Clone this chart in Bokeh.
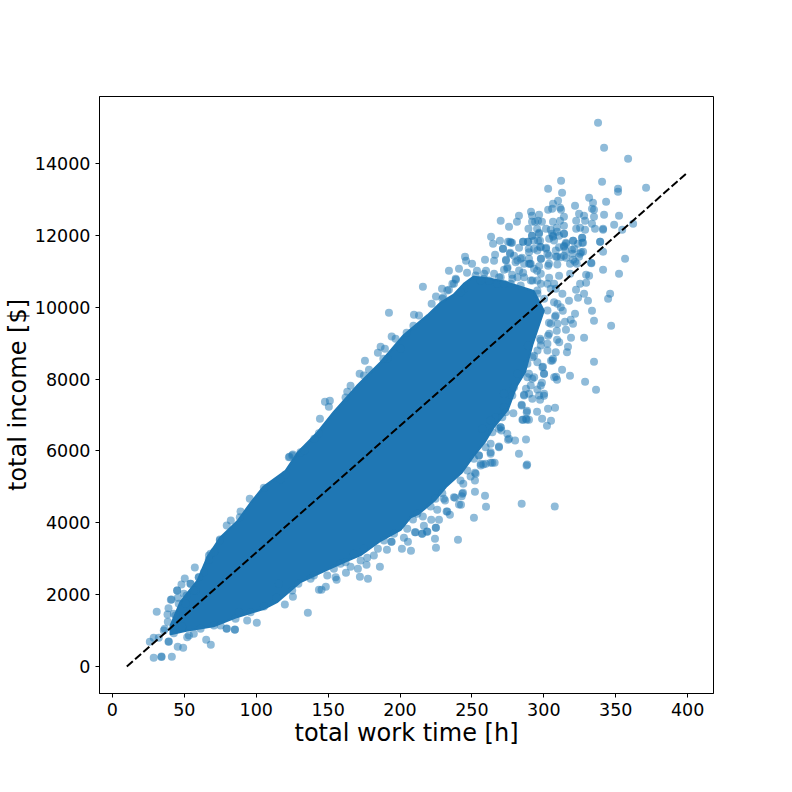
from bokeh.plotting import figure
from bokeh.embed import file_html
from bokeh.resources import INLINE
from bokeh.models import FixedTicker, Range1d

# Readings from the picture. The saturated core cannot be resolved into single
# points, so it is drawn as an outline; only points that can be told apart are listed.
core_hours = [40.4,47.3,59.2,66.1,75.2,87,96,105,120.4,128.7,142.7,153.8,170.5,186.5,202.5,219.2,228.3,237.3,244.3,251.2,262,273.5,293,300,292,287,281,275,265,259,252,243,232,224,213,207.4,200.4,186.5,172.6,160.8,149.6,130.8,114.8,105,87,70.3,52.2,40.4]
core_income = [1141,1800,2400,3050,3600,4050,4550,5000,5450,5950,6520,7080,7830,8470,9220,9780,10130,10350,10650,10850,10800,10700,10450,9900,8950,8200,7800,7150,6650,6250,5900,5400,5000,4620,4250,4150,3800,3500,3100,2900,2700,2350,1800,1600,1380,1120,1000,900]

hours_top = [337.7,341.9,358.6,312,340.5,303,312.7,351.6,351.6,371.1,331.5,334.2,343.3,309.9,306.4,321.7,303,305.8,311.3,312,333.5,334.9,
 291.1,291.8,296.7,282.7,281.3,324.5,328,334.9,341.9,352.3,314,322.5,328.7,348.9,362.1,354.5,341.2,341.2,333.5,335.6,328.7,322.5,325.2,
 311.3,306.4,314,314,310.6,301.5,304.8,305.7,306.4,309,309.2,289.3,275.8,270,293.9,296,298.7,291.8,295.3,296.7,291.8,320.3,326.7,326.7,323.8,
 339.1,341.2,356.5,341.2,327.3,325.2,324.5,333.1,315.4,314,319.6,301.5,297.4,293.2,289,285.5,275.1,277.2,271.6,279.3,276.5,293.2,289.5,297.4,
 298.1,303.6,308.5,314,318.2,290.4,284.8,281.6,273.7,274.7,303.6,296.7,309.4,322.9]
income_top = [15132,14436,14130,13518,13490,13295,13184,13295,13212,13323,13045,12906,12934,12961,12878,12822,12711,12739,12767,12711,12739,12711,
 12656,12544,12572,12544,12377,12600,12544,12516,12572,12544,12516,12405,12405,12294,12321,12154,12182,12154,12321,12182,12154,12182,12210,
 12405,12377,12266,12043,11988,12182,12154,12043,11960,12210,12099,12182,12238,12405,12377,12405,12377,12377,12182,12071,11988,11849,11932,11793,11765,
 11821,11543,11348,11042,11543,11488,11404,11225,11793,11682,11599,11626,11849,11849,11821,11821,11821,11793,11626,11432,11488,11626,11626,11682,
 11348,11432,11404,11432,11210,11210,11376,11300,11300,11113,11210,11140,11188,11210]

hours_upper = [215.9,192.3,209.7,213.2,209.3,222,225,194.2,196.9,204.6,186.5,189.5,184.6,175.6,178.4,171.9,174.9,165.6,163.3,162.1,147.8,151.2,150.5,
 144.3,143.6,140.4,130.8,133.4,123.2,125.5,120.4,116.9,191.2,188.4,200.4,
 57.3,74.7,79.5,82.3,88.6,89.1,95.5,105.3,125,122.7,68.2,67,71,60,54.3,51.5,46.1,48.5,42.7,40.6,39,38.3,45,48,50.3,35.7,42.7,48.5,52,56.6,39.2,
 28.7,34.1,34.1,41.3,45.4,49.2,26,28.7,32.2,39,36.4,38.5,30.8]
income_upper = [10568,9844,9788,9769,9482,10095,10298,9185,9120,9288,8898,8842,8731,8508,8258,8146,8099,7812,7645,7487,7367,7395,7228,
 6894,6493,6337,5964,6011,5836,5900,5344,5213,8564,8564,8842,
 2755,3535,3924,4063,4155,4314,4667,4973,5873,5825,3136,2970,3201,2486,2301,1976,1745,1606,1467,1856,1623,1447,2115,2282,2449,1002,927,1094,815,910,696,
 242,278,265,270,548,520,687,799,799,687,1049,1244,1522]

hours_lower = [65.2,68.4,85.1,79.5,100.4,93.7,119.9,135.9,125.5,125,240.3,251.4,259.8,259.1,252.1,225,224.3,207.6,201.3,190.9,186,177.7,172.1,170.7,162.4,155.9,148.4,145.4,
 242.4,234.7,227.1,225,216.6,219,215.2,210.4,205.5,202.7,194.2,232.9,243.8,242.9,252.6,252.1,264.2,259.6,256.1,268.8,263,254.9,280,275.8,270.5,
 284.6,307.6,288,288.4,282.7]
income_lower = [743,604,1021,1058,1216,1280,1726,1495,1940,2115,3526,4139,4445,4751,4862,3304,3554,3220,3276,3248,2775,2441,2496,2719,2608,2413,2218,2135,
 4500,4222,4083,3860,3916,3749,3693,3738,3471,3582,3471,4314,4834,4740,5363,5177,5669,5642,5594,6104,5920,5873,6290,6337,6568,
 4528,4453,5594,5620,5920]

hours_right = [352.3,346.1,344.7,333.5,334.9,346.8,328,334.9,328.7,336.3,318.2,312.7,309.2,308.5,307.8,302.9,295.3,298.8,305,302.2,285.5,287.6,289.7,288.3,
 316.1,316.8,318.9,315.4,320.3,314.7,318.7,321.7,330.7,323.8,328,317.5,322.4,313.2,307.8,303.6,309,302.9,309.2,297.4,289,293.2,306.4,305,299.4,300.1,298.7,295.5,300.1,297.4,292,286.2,287.6,284.6,
 263.3,264.7,269.5,271.6,276.5,277.9,282.8,289,285.6,289.7,291.8,296,301.6,296.7,306.4,314.1,320.4,326.6,327.3,314.1,315.5,339.2,320.4,245.2,245.9,250.1,234,241,259.1,266.1,265.4,276.5,273.7,286.3,290.9,295.3,303,309.2,315.5,321.7,325.9,332.9,329.4,331.5,325.2,329.4,318.3,310.6,303.7,285.6,277.9,272.3,259.8,253.5,246.6,238.9,237.5,234,229.2,230.1,244.5,
 297.9,304.8,312.9,307.1,311.8,302.5,308.3,295.5,300.2,283.9,286.3,277,267.7,258.4,297.9,302.5,295.5,288.6,289.7,292,281.6,279.3,272.3,278.1,272.3,266.5,263,270]
income_right = [10930,10373,10234,9900,9621,9482,9148,8480,7924,7701,8091,8258,7979,8063,7200,7172,7089,6894,6838,6699,6866,6894,6866,7117,
 8748,8898,9148,9371,9538,9594,9649,9816,10178,10262,10373,10178,10484,9900,9733,9566,9343,9204,9093,9121,8926,8648,8564,8508,8341,8146,7896,7710,7534,7423,7450,7562,7729,7284,
 11959,11764,11847,11625,11820,11792,11653,11820,11820,11532,11987,11847,11653,12042,11987,12042,11847,11931,11792,11708,11764,11820,11319,11402,11291,11207,11012,11068,11319,11458,11291,11513,11319,11207,11207,11012,11152,11402,11374,11263,11532,11235,10901,10873,10651,10679,10929,10873,10818,10957,10901,11040,11012,11012,10957,10762,10651,10484,10512,10280,10512,
 10651,10512,10372,10140,10001,9909,10512,10465,10233,10604,10836,10651,10651,10790,8934,8981,8471,8424,8146,8007,8146,7775,7589,7543,7218,6940,6847,6662]

hours_band_low = [45,45.5,41.1,54.3,57.8,50.8,43.9,48.5,53.2,61.3,70.6,79.4,85.2,85.6,114.2,105.4,96.1,88,75.2,129.3,115.8,137.8,143.6,67.1,70.6,63.6,60.1,74.7,56.6,49.7,
 193.9,184.6,181.8,176.7,165.6,158.6,154,149.4,155.2,140.1,162.1,172.6,177.2,174.9,167.9,188.8,195.8,205,210.8,215.5,218.7,224.8,215.9,209,221.7,232.4,231.3,241,225.9,221.3,212,238.2,229.4,
 249.1,244,243.3,237.5,230.5,224.7,265.8,263,257.9,256.1,268.8,263,254.9,251.4,252.1,275.1,287.6,285.1,288.1,273.5,278.8,288.1,284.6,271.1,274.6,270,264.2,257.2,268.8,263,259.5,246.8,242.1]
income_band_low = [2115,1911,1865,2301,2115,1744,1420,1114,863,1049,1141,1049,1030,1327,1911,1670,1512,1512,1141,2301,2301,2440,2134,3090,3182,2626,2487,3507,2115,2023,
 3470,3275,3090,2830,2774,2858,2719,2533,2487,2533,2904,2950,3025,3275,3136,3507,3693,3832,3739,3693,3758,3860,4175,4092,4082,4314,4620,4509,4361,4453,4249,4695,4824,
 5288,5084,4805,4713,4666,4666,5668,5668,5622,5640,6123,5965,5872,5780,5390,6308,6318,6865,6865,7078,7050,7078,7264,6939,6475,6661,6522,6614,6614,6197,6104,5455,5176]

hours_band_high = [308.3,304.9,309.5,297.9,303.7,310.7,306,302.5,308.3,300.2,299,307.2,293.3,297.9,290.9,286.3,289.8,296.7,300.2,295.6,292.1,288.6,309.5,307.2,295.6,302.5,292.1,281.7,270,258.5,236.4,238.7,232.9,229.5,242.2,
 252.6,256.1,261.9,265.4,268.9,272.3,278.1,282.8,289.7,293.2,297.9,290.9,295.5,274.6,280.4,283.9,289.7,297.9,302.5,308.3,311.8,310.6,315.2,321.1,319.9,297.9,295.5,303.7,307.1]
income_band_high = [9769,9537,9537,9073,9258,9026,8516,8795,8748,8145,8331,8052,8052,7820,7820,7542,7589,7542,7589,8795,8609,8052,10093,10650,10372,10650,10743,10835,10835,10928,10650,10789,10464,10232,10418,
 10883,10743,10743,10929,10836,10651,10790,11022,11207,11068,10929,10743,10743,11068,11254,11346,11346,11346,11486,11578,11393,11671,11578,11625,11486,11671,11578,11903,11857]

fit_hours = [10, 400]
fit_income = [0, 13750]

x_ticks = [0, 50, 100, 150, 200, 250, 300, 350, 400]
y_ticks = [0, 2000, 4000, 6000, 8000, 10000, 12000, 14000]

BLUE = "#1f77b4"
p = figure(width=776, height=776, output_backend="svg", toolbar_location=None,
           x_range=Range1d(-9, 418), y_range=Range1d(-751, 15864),
           min_border_left=99, min_border_right=63, min_border_top=96, min_border_bottom=83,
           x_axis_label="total work time [h]", y_axis_label="total income [$]")
p.background_fill_color = "white"
p.border_fill_color = "white"
p.grid.visible = False
p.outline_line_color = "black"
p.outline_line_width = 1

p.patch(core_hours, core_income, fill_color=BLUE, line_color=BLUE, line_width=2, line_join="round")
hours = hours_top + hours_upper + hours_lower + hours_right + hours_band_low + hours_band_high
income = income_top + income_upper + income_lower + income_right + income_band_low + income_band_high
p.scatter(hours, income, size=8, fill_color=BLUE, fill_alpha=0.5, line_color=None)
p.line(fit_hours, fit_income, line_color="black", line_width=2, line_dash="8 3")

for ax, ticks in ((p.xaxis[0], x_ticks), (p.yaxis[0], y_ticks)):
    ax.ticker = FixedTicker(ticks=ticks)
    ax.major_label_text_font = "DejaVu Sans"
    ax.major_label_text_font_size = "17.5px"
    ax.major_label_text_color = "black"
    ax.axis_label_text_font = "DejaVu Sans"
    ax.axis_label_text_font_size = "24px"
    ax.axis_label_text_font_style = "normal"
    ax.axis_label_text_color = "black"
    ax.axis_line_color = "black"
    ax.major_tick_line_color = "black"
    ax.major_tick_out = 4
    ax.major_tick_in = 0
    ax.minor_tick_line_color = None
    ax.major_label_standoff = 5
    ax.axis_label_standoff = 0
p.yaxis[0].major_label_orientation = "horizontal"

open("out.html", "w").write(file_html(p, INLINE))
